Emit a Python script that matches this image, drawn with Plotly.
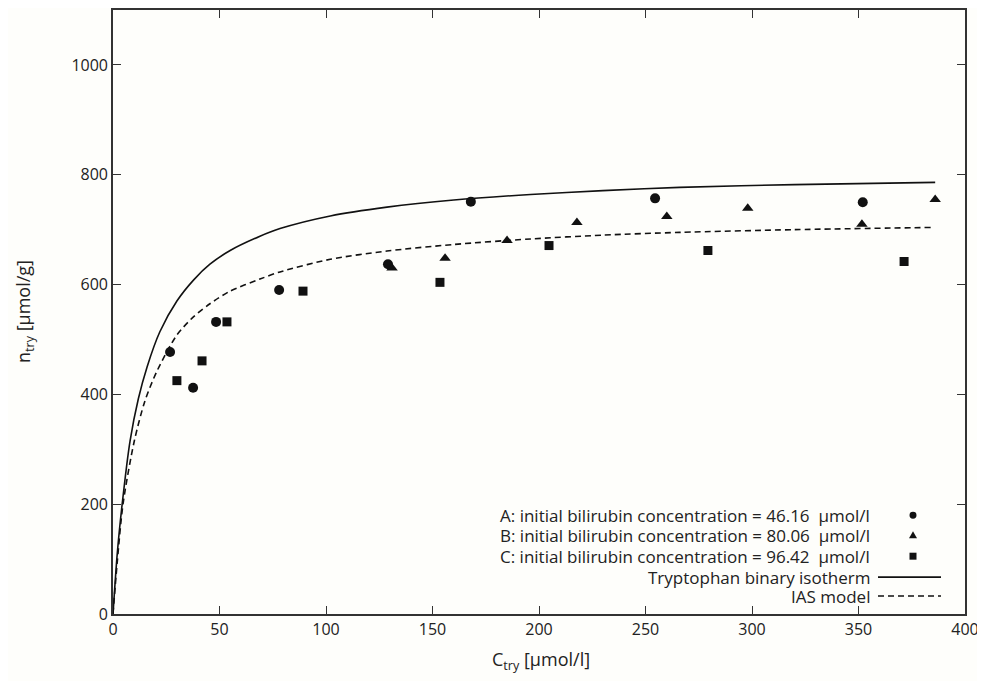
import plotly.graph_objects as go

# ---- data ----
a_x = [26.8, 37.6, 48.4, 78.0, 129.1, 168.0, 254.5, 352.0]
a_y = [477, 412, 532, 590, 637, 751, 757, 750]
b_x = [131.0, 155.9, 185.0, 217.8, 260.0, 298.0, 351.6, 386.0]
b_y = [630, 648, 680, 713, 724, 739, 710, 755]
c_x = [30.0, 41.8, 53.5, 89.2, 153.5, 204.7, 279.3, 371.4]
c_y = [425, 461, 532, 588, 604, 671, 662, 642]

binary_x = [0, 2, 4.3, 8, 11.9, 16, 22, 30, 38, 45.5, 55, 69, 78.4, 102, 128.6, 160, 196, 230, 266, 320, 386]
binary_y = [0, 110, 200, 315, 392, 450, 514, 570, 609, 637, 662, 688, 702, 725, 741, 754, 764, 771, 777, 782, 786]
ias_x = [0, 2, 4.7, 10, 15, 20.6, 30, 38, 45.5, 55, 69, 78.4, 102, 128.6, 160, 196, 230, 266, 320, 385]
ias_y = [0, 95, 200, 315, 388, 442, 508, 542, 565, 588, 610, 623, 646, 661, 673, 683, 690, 695, 700, 704]

x_ticks = [0, 50, 100, 150, 200, 250, 300, 350, 400]
y_ticks = [0, 200, 400, 600, 800, 1000]

legend_labels = [
    "A: initial bilirubin concentration = 46.16 \u00a0\u03bcmol/l",
    "B: initial bilirubin concentration = 80.06 \u00a0\u03bcmol/l",
    "C: initial bilirubin concentration = 96.42 \u00a0\u03bcmol/l",
    "Tryptophan binary isotherm",
    "IAS model",
]

FONT = "Open Sans"
INK = "#222222"

fig = go.Figure()
fig.add_trace(go.Scatter(x=binary_x, y=binary_y, mode="lines",
                         line=dict(color="#111", width=1.6, shape="spline", smoothing=0.8)))
fig.add_trace(go.Scatter(x=ias_x, y=ias_y, mode="lines",
                         line=dict(color="#111", width=1.6, dash="6px,4px", shape="spline", smoothing=0.8)))
fig.add_trace(go.Scatter(x=a_x, y=a_y, mode="markers",
                         marker=dict(symbol="circle", size=10, color="#111")))
fig.add_trace(go.Scatter(x=b_x, y=b_y, mode="markers",
                         marker=dict(symbol="triangle-up", size=10, color="#111")))
fig.add_trace(go.Scatter(x=c_x, y=c_y, mode="markers",
                         marker=dict(symbol="square", size=9, color="#111")))

# ---- screen geometry of the plot area (page has an 8px body margin) ----
L, R, T, B = 113, 965, 8, 614
W, H = R - L, B - T
OFF = 8
FIG_W, FIG_H = 985 - OFF, 681 - OFF
def px(x): return (x - L) / W
def py(y): return (B - y) / H

row_y = [515, 535, 556, 577, 596]
text_right = 872
shapes = []
annotations = []
for lab, yy in zip(legend_labels, row_y):
    annotations.append(dict(x=px(text_right), y=py(yy), xref="paper", yref="paper",
                            text=lab, showarrow=False, xanchor="right", yanchor="middle",
                            font=dict(family=FONT, size=17, color=INK)))
sx = 913
s = 3.5
shapes.append(dict(type="circle", xref="paper", yref="paper",
                   x0=px(sx - s), x1=px(sx + s), y0=py(row_y[0] + s), y1=py(row_y[0] - s),
                   fillcolor="#111", line=dict(width=0)))
tri = "M {x0},{y0} L {x1},{y0} L {xm},{y1} Z".format(
    x0=px(sx - 4), x1=px(sx + 4), y0=py(row_y[1] + 3), xm=px(sx), y1=py(row_y[1] - 4))
shapes.append(dict(type="path", xref="paper", yref="paper", path=tri,
                   fillcolor="#111", line=dict(width=0)))
shapes.append(dict(type="rect", xref="paper", yref="paper",
                   x0=px(sx - s), x1=px(sx + s), y0=py(row_y[2] + s), y1=py(row_y[2] - s),
                   fillcolor="#111", line=dict(width=0)))
shapes.append(dict(type="line", xref="paper", yref="paper",
                   x0=px(878), x1=px(941), y0=py(row_y[3]), y1=py(row_y[3]),
                   line=dict(color="#111", width=1.6)))
shapes.append(dict(type="line", xref="paper", yref="paper",
                   x0=px(878), x1=px(941), y0=py(row_y[4]), y1=py(row_y[4]),
                   line=dict(color="#111", width=1.6, dash="6px,4px")))

# axis titles
annotations.append(dict(x=px(541), y=py(661), xref="paper", yref="paper", showarrow=False,
                        text="C<sub>try</sub> [\u03bcmol/l]", xanchor="center", yanchor="middle",
                        font=dict(family=FONT, size=18, color=INK)))
annotations.append(dict(x=px(24), y=py(311), xref="paper", yref="paper", showarrow=False,
                        text="n<sub>try</sub> [\u03bcmol/g]", textangle=-90,
                        xanchor="center", yanchor="middle",
                        font=dict(family=FONT, size=18, color=INK)))

axis_common = dict(showgrid=False, zeroline=False, ticks="inside", ticklen=8, tickwidth=1.4,
                   tickcolor="#333", showline=True, linecolor="#333", linewidth=1.6,
                   mirror="ticks", tickfont=dict(family=FONT, size=16, color=INK))

fig.update_layout(
    width=FIG_W, height=FIG_H,
    margin=dict(l=L - OFF, r=FIG_W - (R - OFF), t=T - OFF, b=FIG_H - (B - OFF)),
    paper_bgcolor="#fefefb", plot_bgcolor="#fefefb",
    showlegend=False,
    shapes=shapes, annotations=annotations,
    xaxis=dict(range=[0, 400], tickvals=x_ticks, ticktext=[str(v) for v in x_ticks], **axis_common),
    yaxis=dict(range=[0, 1100], tickvals=y_ticks, ticktext=[str(v) for v in y_ticks], **axis_common),
)
fig.write_html("out.html")
